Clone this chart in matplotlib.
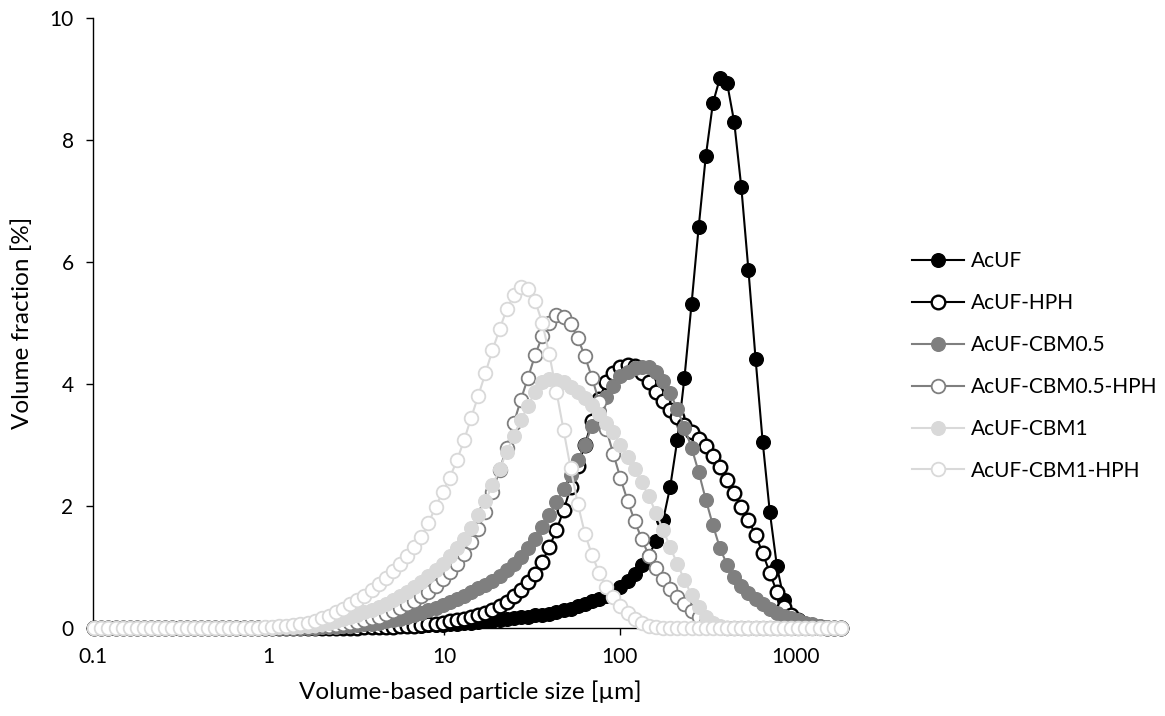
import matplotlib
matplotlib.use("Agg")
import matplotlib.pyplot as plt
from matplotlib.ticker import FixedLocator, NullLocator

plt.rcParams['font.family'] = ['Lato', 'DejaVu Sans']

# Tamaños de canal del difractómetro (µm)
sizes = [0.1016, 0.1116, 0.1225, 0.1344, 0.1476, 0.1620, 0.1778, 0.1952, 0.2143, 0.2352,
         0.2582, 0.2835, 0.3112, 0.3416, 0.375, 0.412, 0.452, 0.496, 0.545, 0.598,
         0.656, 0.721, 0.791, 0.868, 0.953, 1.047, 1.149, 1.261, 1.385, 1.520,
         1.668, 1.832, 2.010, 2.207, 2.423, 2.660, 2.920, 3.205, 3.519, 3.863,
         4.240, 4.655, 5.110, 5.610, 6.158, 6.760, 7.421, 8.147, 8.943, 9.817,
         10.78, 11.83, 12.99, 14.26, 15.65, 17.18, 18.86, 20.70, 22.73, 24.95,
         27.39, 30.07, 33.01, 36.24, 39.78, 43.67, 47.94, 52.62, 57.77, 63.41,
         69.61, 76.42, 83.89, 92.09, 101.1, 111.0, 121.8, 133.7, 146.8, 161.2,
         176.9, 194.2, 213.2, 234.1, 256.9, 282.1, 309.6, 339.9, 373.1, 409.6,
         449.7, 493.6, 541.9, 594.9, 653.0, 716.8, 786.9, 863.9, 948.3, 1041,
         1143, 1255, 1377, 1512, 1660, 1822]

acuf = [0] * 33 + [
    0.001, 0.002, 0.003, 0.004, 0.005, 0.006, 0.008, 0.01, 0.012, 0.015,
    0.018, 0.022, 0.026, 0.031, 0.036, 0.042, 0.048, 0.055, 0.062, 0.07,
    0.08, 0.09, 0.1, 0.11, 0.125, 0.14, 0.155, 0.17, 0.18, 0.2,
    0.21, 0.22, 0.25, 0.28, 0.31, 0.35, 0.39, 0.43, 0.47, 0.52,
    0.58, 0.66, 0.76, 0.88, 1.02, 1.18, 1.42, 1.76, 2.31, 3.08,
    4.1, 5.31, 6.57, 7.73, 8.6, 9.02, 8.93, 8.29, 7.22, 5.86,
    4.41, 3.05, 1.9, 1.01, 0.45, 0.15, 0.03] + [0] * 6

acuf_hph = [0] * 38 + [
    0.003, 0.005, 0.008, 0.01, 0.015, 0.02, 0.025, 0.03, 0.04, 0.05,
    0.065, 0.08, 0.1, 0.12, 0.14, 0.17, 0.2, 0.24, 0.29, 0.35,
    0.42, 0.52, 0.62, 0.75, 0.88, 1.08, 1.32, 1.6, 1.92, 2.3,
    2.65, 3.0, 3.38, 3.75, 4.02, 4.17, 4.27, 4.31, 4.29, 4.18,
    4.02, 3.86, 3.71, 3.57, 3.45, 3.33, 3.21, 3.1, 2.97, 2.81,
    2.63, 2.42, 2.2, 1.98, 1.76, 1.52, 1.22, 0.9, 0.58, 0.33,
    0.2, 0.12, 0.06, 0.03, 0.01] + [0] * 3

cbm05 = [0] * 32 + [
    0.005, 0.01, 0.015, 0.02, 0.03, 0.04, 0.05, 0.065, 0.08, 0.1,
    0.12, 0.14, 0.17, 0.2, 0.24, 0.28, 0.32, 0.37, 0.42, 0.47,
    0.52, 0.58, 0.64, 0.7, 0.77, 0.85, 0.94, 1.04, 1.16, 1.3,
    1.46, 1.65, 1.85, 2.06, 2.27, 2.5, 2.75, 3.0, 3.3, 3.55,
    3.78, 3.97, 4.12, 4.2, 4.25, 4.28, 4.27, 4.2, 4.05, 3.85,
    3.58, 3.28, 2.95, 2.55, 2.1, 1.68, 1.3, 1.03, 0.83, 0.68,
    0.56, 0.46, 0.38, 0.3, 0.24, 0.19, 0.15, 0.12, 0.08, 0.05,
    0.03, 0.01] + [0] * 2

cbm05_hph = [0] * 30 + [
    0.005, 0.01, 0.02, 0.03, 0.04, 0.05, 0.07, 0.09, 0.12, 0.15,
    0.18, 0.22, 0.27, 0.32, 0.38, 0.44, 0.51, 0.59, 0.68, 0.79,
    0.91, 1.05, 1.21, 1.4, 1.62, 1.9, 2.22, 2.58, 2.95, 3.35,
    3.74, 4.1, 4.47, 4.78, 5.0, 5.12, 5.1, 4.98, 4.75, 4.45,
    4.1, 3.7, 3.25, 2.85, 2.45, 2.08, 1.75, 1.45, 1.18, 0.97,
    0.79, 0.63, 0.5, 0.38, 0.27, 0.17, 0.09, 0.04, 0.01] + [0] * 17

cbm1 = [0] * 26 + [
    0.005, 0.01, 0.015, 0.02, 0.03, 0.045, 0.06, 0.08, 0.11, 0.14,
    0.17, 0.21, 0.25, 0.29, 0.34, 0.39, 0.45, 0.51, 0.58, 0.66,
    0.75, 0.84, 0.94, 1.05, 1.17, 1.3, 1.45, 1.64, 1.85, 2.08,
    2.33, 2.6, 2.88, 3.15, 3.4, 3.64, 3.87, 4.02, 4.07, 4.06,
    4.02, 3.95, 3.86, 3.76, 3.65, 3.5, 3.35, 3.2, 3.0, 2.8,
    2.6, 2.38, 2.15, 1.88, 1.6, 1.32, 1.04, 0.78, 0.53, 0.33,
    0.17, 0.07, 0.02] + [0] * 17

cbm1_hph = [0] * 24 + [
    0.01, 0.01, 0.02, 0.03, 0.04, 0.06, 0.08, 0.11, 0.15, 0.19,
    0.25, 0.31, 0.38, 0.45, 0.52, 0.62, 0.72, 0.82, 0.93, 1.05,
    1.18, 1.32, 1.49, 1.71, 1.98, 2.22, 2.46, 2.74, 3.07, 3.44,
    3.8, 4.17, 4.55, 4.89, 5.22, 5.45, 5.59, 5.56, 5.36, 5.0,
    4.48, 3.87, 3.24, 2.61, 2.03, 1.54, 1.19, 0.9, 0.67, 0.5,
    0.36, 0.24, 0.14, 0.07, 0.03, 0.01] + [0] * 26

labels = ['AcUF', 'AcUF-HPH', 'AcUF-CBM0.5', 'AcUF-CBM0.5-HPH', 'AcUF-CBM1', 'AcUF-CBM1-HPH']
x_ticks = [0.1, 1, 10, 100, 1000]
x_tick_labels = ['0.1', '1', '10', '100', '1000']
y_ticks = [0, 2, 4, 6, 8, 10]

# estilo de cada serie: (color línea/borde, relleno, grosor borde)
estilos = [
    ('black', 'black', 1.0),
    ('black', 'white', 1.7),
    ('#7f7f7f', '#7f7f7f', 1.0),
    ('#7f7f7f', 'white', 1.3),
    ('#d9d9d9', '#d9d9d9', 1.0),
    ('#d9d9d9', 'white', 1.3),
]
series = [acuf, acuf_hph, cbm05, cbm05_hph, cbm1, cbm1_hph]

fig = plt.figure(figsize=(11.65, 7.16), dpi=100)
ax = fig.add_axes([93 / 1165, 1 - 627.5 / 716, (848 - 93) / 1165, (627.5 - 18) / 716])

handles = []
for k, (vals, (col, face, mew)) in enumerate(zip(series, estilos)):
    h, = ax.plot(sizes, vals, color=col, lw=1.5, marker='o', markersize=9.8,
                 markerfacecolor=face, markeredgecolor=col, markeredgewidth=mew,
                 label=labels[k], zorder=2 + k, clip_on=False)
    handles.append(h)

ax.set_xscale('log')
ax.set_xlim(0.1, 2000)
ax.set_ylim(0, 10)
ax.xaxis.set_major_locator(FixedLocator(x_ticks))
ax.xaxis.set_minor_locator(NullLocator())
ax.set_xticklabels(x_tick_labels)
ax.set_yticks(y_ticks)
ax.set_yticklabels([str(v) for v in y_ticks])

for s in ['top', 'right']:
    ax.spines[s].set_visible(False)
for s in ['left', 'bottom']:
    ax.spines[s].set_linewidth(1.0)
    ax.spines[s].set_color('black')
ax.tick_params(direction='out', length=5, width=1.0, labelsize=15, pad=9)

ax.set_xlabel('Volume-based particle size [µm]', fontsize=17.5, labelpad=10)
ax.set_ylabel('Volume fraction [%]', fontsize=17.5, labelpad=12)

fig.legend(handles=handles, loc='center left', bbox_to_anchor=(912 / 1165, 1 - 366 / 716),
           frameon=False, fontsize=15, handlelength=2.5, handletextpad=0.35,
           labelspacing=1.05, borderpad=0, borderaxespad=0)

fig.savefig('out.png', dpi=100)
